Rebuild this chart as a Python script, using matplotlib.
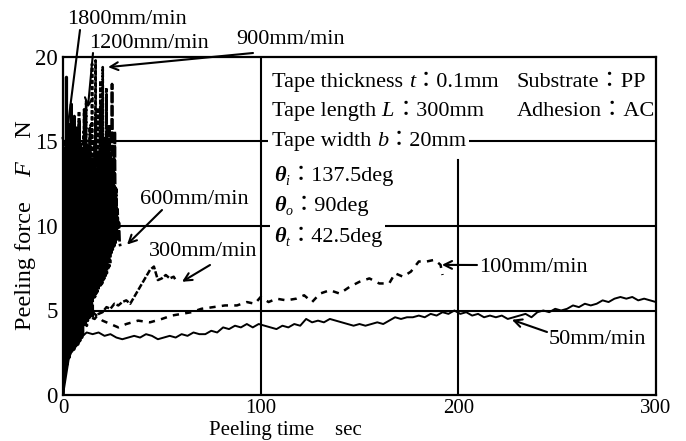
import numpy as np
import matplotlib
matplotlib.use("Agg")
import matplotlib.pyplot as plt
from matplotlib.patches import Rectangle

plt.rcParams['font.family'] = ['Liberation Serif', 'Noto Sans CJK JP', 'DejaVu Serif']

# ---- data (time in sec, force in N) ----
# high speed runs, sampled evenly from 0 to end time
end_1800 = 10
v_1800 = [0.0, 2.5, 0.8, 9.0, 1.2, 14.6, 2.0, 18.8, 1.8, 12.5, 2.5, 16.0, 2.2, 13.0,
          3.0, 15.5, 2.8, 17.2, 2.6, 12.0, 3.2, 14.8, 2.7, 16.4, 3.1, 13.4, 2.9, 15.8,
          3.3, 12.6, 3.0, 14.0, 3.5, 16.2, 3.2, 12.2, 3.6, 13.8, 3.4, 11.5, 3.6]

end_1200 = 15
v_1200 = [0.5, 4.0, 1.0, 10.5, 1.6, 13.0, 2.2, 15.8, 2.4, 12.0, 2.8, 14.5, 2.5, 16.0,
          3.0, 11.8, 2.9, 13.6, 3.2, 15.0, 3.0, 12.4, 3.4, 16.5, 3.3, 13.2, 3.6, 11.6,
          3.5, 14.2, 3.8, 12.8, 3.6, 15.4, 3.9, 13.0, 4.0, 11.4, 3.8, 14.6, 4.1, 12.2,
          4.0, 16.9, 4.2, 13.4, 4.3, 12.0, 4.1, 14.8, 4.4, 12.6, 4.5, 13.8, 4.6, 11.2,
          4.7, 12.5, 4.8, 10.6, 4.6]

end_900 = 24
v_900 = [0.3, 3.5, 1.0, 9.5, 1.8, 12.8, 2.3, 14.5, 2.6, 11.8, 3.0, 15.2, 2.9, 13.0,
         3.3, 16.4, 3.2, 12.4, 3.6, 14.0, 3.5, 15.8, 3.8, 12.6, 4.0, 13.8, 3.9, 16.8,
         4.2, 12.0, 4.3, 14.6, 4.4, 13.2, 4.6, 15.6, 4.5, 12.8, 4.8, 17.4, 4.9, 13.6,
         5.0, 14.8, 5.2, 12.4, 5.3, 16.0, 5.4, 19.6, 5.6, 13.8, 5.7, 15.0, 5.8, 19.8,
         6.0, 13.2, 6.1, 17.0, 6.2, 14.4, 6.4, 18.6, 6.5, 12.8, 6.6, 19.4, 6.8, 15.2,
         6.9, 13.6, 7.0, 18.2, 7.2, 12.4, 7.4, 16.0, 7.6, 11.0, 7.8]

end_600 = 29
v_600 = [0.8, 3.0, 1.4, 7.5, 2.0, 10.8, 2.4, 13.5, 2.8, 11.0, 3.0, 12.6, 3.2, 14.8,
         3.4, 11.6, 3.6, 13.2, 3.8, 12.0, 4.0, 14.2, 4.1, 12.4, 4.3, 15.0, 4.4, 11.8,
         4.6, 13.6, 4.7, 12.8, 4.9, 14.6, 5.0, 12.2, 5.2, 13.4, 5.3, 15.8, 5.5, 12.6,
         5.7, 14.0, 5.8, 13.0, 6.0, 16.4, 6.2, 12.8, 6.4, 14.4, 6.6, 13.4, 6.8, 17.2,
         7.0, 13.0, 7.2, 15.2, 7.4, 13.8, 7.6, 17.8, 7.8, 13.6, 8.0, 16.0, 8.2, 14.2,
         8.4, 18.4, 8.6, 14.0, 8.8, 15.6, 9.0, 12.2, 9.2, 11.0, 9.4, 10.2, 9.0, 8.8]

t_300 = [0, 1, 2, 4, 6, 8, 10, 12, 14, 16, 18, 20, 22, 24, 26, 28, 30, 32, 34, 36,
         38, 40, 42, 44, 46, 48, 50, 52, 54, 56, 57]
v_300 = [0, 3.0, 5.5, 8.0, 7.0, 6.2, 5.6, 5.0, 4.6, 4.5, 4.8, 4.9, 5.2, 5.1, 5.4, 5.3,
         5.5, 5.6, 5.4, 5.8, 6.2, 6.6, 7.0, 7.4, 7.6, 6.8, 6.9, 7.1, 6.9, 7.0, 6.8]

t_100 = [0, 2, 4, 6, 8, 10, 13, 16, 20, 24, 28, 32, 38, 44, 50, 55, 60, 65, 70, 76,
         82, 88, 93, 97, 100, 104, 108, 113, 118, 122, 126, 130, 135, 140, 145, 150,
         155, 160, 165, 168, 172, 176, 180, 184, 188, 191, 192]
v_100 = [0, 4.0, 7.5, 9.0, 7.0, 5.8, 5.2, 4.8, 4.4, 4.2, 4.0, 4.2, 4.4, 4.3, 4.5, 4.7,
         4.8, 4.9, 5.1, 5.2, 5.3, 5.3, 5.5, 5.4, 5.8, 5.5, 5.7, 5.6, 5.7, 5.9, 5.5, 6.0,
         6.2, 6.0, 6.4, 6.7, 6.9, 6.6, 6.6, 7.2, 7.0, 7.3, 7.9, 7.9, 8.0, 7.7, 7.1]

end_50 = 300
v_50 = [0.0, 2.2, 3.0, 3.4, 3.7, 3.6, 3.7, 3.5, 3.6, 3.4,
        3.3, 3.4, 3.5, 3.4, 3.6, 3.5, 3.3, 3.4, 3.5, 3.4,
        3.6, 3.5, 3.7, 3.6, 3.6, 3.8, 3.7, 4.0, 3.9, 4.1,
        4.0, 4.2, 4.0, 4.2, 4.1, 4.0, 3.9, 4.1, 4.0, 4.2,
        4.1, 4.5, 4.3, 4.4, 4.3, 4.5, 4.4, 4.3, 4.2, 4.1,
        4.2, 4.1, 4.2, 4.3, 4.2, 4.4, 4.6, 4.5, 4.6, 4.6,
        4.7, 4.6, 4.8, 4.7, 4.9, 4.8, 5.0, 4.8, 4.9, 4.7,
        4.8, 4.6, 4.7, 4.6, 4.7, 4.5, 4.6, 4.7, 4.8, 4.6,
        4.9, 5.0, 4.9, 5.1, 5.0, 5.1, 5.3, 5.2, 5.4, 5.3,
        5.4, 5.6, 5.5, 5.7, 5.8, 5.7, 5.8, 5.6, 5.7, 5.6,
        5.5]

x_ticks = [0, 100, 200, 300]
y_ticks = [0, 5, 10, 15, 20]

# label text, text centre (fig px from top-left), arrow start (fig px), arrow tip (data)
labels = [
    ("1800mm/min", (127, 20), (80, 30), (1.0, 14.6)),
    ("1200mm/min", (149, 44), (93, 53), (12.6, 17.0)),
    ("900mm/min", (291, 40), (253, 53), (22.8, 19.4)),
    ("600mm/min", (194, 199), (162, 210), (32.4, 8.9)),
    ("300mm/min", (203, 252), (210, 265), (60.2, 6.7)),
    ("100mm/min", (533, 268), (477, 265), (191.7, 7.7)),
    ("50mm/min", (597, 339), (547, 332), (227.1, 4.45)),
]

W, H = 686, 441
fig = plt.figure(figsize=(W / 100, H / 100), dpi=100)
ax = fig.add_axes([63 / W, 1 - 395 / H, (656 - 63) / W, (395 - 57) / H])
rend = fig.canvas.get_renderer()

k = dict(color='black', zorder=2)
ax.plot(np.linspace(0, end_50, len(v_50)), v_50, lw=1.4, ls='-', **k)
ax.plot(t_100, v_100, lw=1.8, ls=(0, (2.5, 2.5)), **k)
ax.plot(t_300, v_300, lw=1.8, ls=(0, (2.5, 0.8)), **k)
ax.plot(np.linspace(0, end_600, len(v_600)), v_600, lw=2.0, ls=(0, (4, 0.8)), **k)
ax.plot(np.linspace(0, end_900, len(v_900)), v_900, lw=1.9, ls=(0, (1.5, 0.8)), **k)
ax.plot(np.linspace(0, end_1200, len(v_1200)), v_1200, lw=2.1, ls=(0, (5, 1, 1, 1)), **k)
ax.plot(np.linspace(0, end_1800, len(v_1800)), v_1800, lw=2.3, ls='-', **k)

# grid lines
for yv in [5, 10, 15]:
    ax.axhline(yv, color='black', lw=1.5, zorder=1)
ax.axvline(100, color='black', lw=1.5, zorder=1)
ax.axvline(200, ymax=0.695, color='black', lw=1.5, zorder=1)

ax.set_xlim(0, 300)
ax.set_ylim(0, 20)
ax.set_xticks(x_ticks)
ax.set_yticks(y_ticks)
ax.tick_params(length=0)
ax.tick_params(axis='x', pad=3, labelsize=15)
ax.tick_params(axis='y', pad=4, labelsize=16.5)
for s in ax.spines.values():
    s.set_linewidth(1.6)
    s.set_zorder(5)


def runs(x, y, parts, size, white=False, rot=False):
    """place text pieces one after another; x, y in px from top-left"""
    pos = x if not rot else y
    x0 = pos
    for s, kw in parts:
        kw = dict(kw)
        fsz = kw.pop('size', size)
        dy = kw.pop('dy', 0)
        if rot:
            t = ax.text((x + dy) / W, 1 - pos / H, s, transform=fig.transFigure,
                        fontsize=fsz, rotation=90, rotation_mode='anchor',
                        ha='left', va='baseline', clip_on=False, zorder=4, **kw)
            pos -= t.get_window_extent(rend).height
        else:
            t = ax.text(pos / W, 1 - (y + dy) / H, s, transform=fig.transFigure,
                        fontsize=fsz, ha='left', va='baseline', clip_on=False,
                        zorder=4, **kw)
            pos += t.get_window_extent(rend).width
    if white:
        ax.add_patch(Rectangle(((x0 - 4) / W, 1 - (y + 8) / H), (pos - x0 + 6) / W, 26 / H,
                               transform=fig.transFigure, facecolor='white',
                               edgecolor='none', clip_on=False, zorder=3))


it = dict(style='italic')
bi = dict(style='italic', weight='bold')
sub = dict(style='italic', size=10, dy=4)
fs = 16

fig.text(285 / W, 1 - 431 / H, "Peeling time\u3000sec", fontsize=15, ha='center', va='center')
runs(31, 330, [("Peeling force\u3000", {}), ("F", it), ("\u3000N", {})], 17.5, rot=True)

# condition box
runs(272, 87, [("Tape thickness ", {}), ("t", it), ("：0.1mm", {})], fs, white=True)
runs(517, 87, [("Substrate：PP", {})], fs, white=True)
runs(272, 116, [("Tape length ", {}), ("L", it), ("：300mm", {})], fs, white=True)
runs(517, 116, [("Adhesion：AC", {})], fs, white=True)
runs(272, 146, [("Tape width ", {}), ("b", it), ("：20mm", {})], fs, white=True)
runs(274, 181, [("θ", bi), ("i", sub), ("：137.5deg", {})], fs, white=True)
runs(274, 211, [("θ", bi), ("o", sub), ("：90deg", {})], fs, white=True)
runs(274, 242, [("θ", bi), ("t", sub), ("：42.5deg", {})], fs, white=True)

for txt, (cx, cy), (sx, sy), tip in labels:
    fig.text(cx / W, 1 - cy / H, txt, fontsize=16, ha='center', va='center')
    ax.annotate('', xy=tip, xycoords='data', xytext=(sx, H - sy),
                textcoords='figure pixels',
                arrowprops=dict(arrowstyle='->', lw=1.5, color='black',
                                mutation_scale=14, shrinkA=0, shrinkB=0),
                zorder=4, annotation_clip=False)

fig.savefig("out.png", dpi=100)
